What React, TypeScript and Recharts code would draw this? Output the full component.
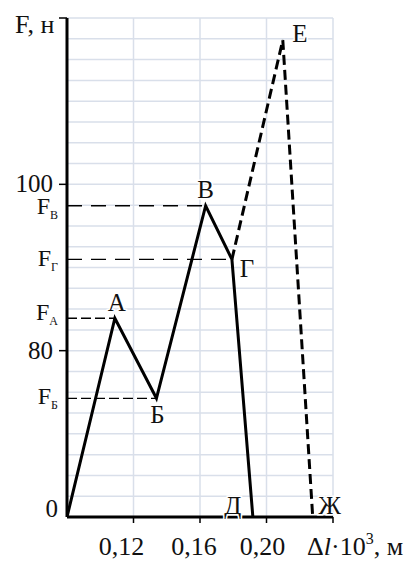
import React from 'react';
import { LineChart, Line, XAxis, YAxis, CartesianGrid, ReferenceLine, LabelList } from 'recharts';

// Schematic chart: the force axis is broken, so y is measured in grid cells;
// tick labels map those cell positions to force values.
const solidX = [0.08, 0.1088, 0.1338, 0.1634, 0.1792, 0.1918];
const solidY = [0, 9.56, 5.71, 14.97, 12.39, 0];
const solidNames = ['', 'А', 'Б', 'В', 'Г', 'Д'];

const dashedX = [0.1792, 0.2098, 0.2278];
const dashedY = [12.39, 22.94, 0];
const dashedNames = ['', 'Е', 'Ж'];

const xTicks = [0.08, 0.12, 0.16, 0.2, 0.24];
const xTickLabels = ['', '0,12', '0,16', '0,20', ''];
const yTicks = [0, 1, 2, 3, 4, 5, 6, 7, 8, 9, 10, 11, 12, 13, 14, 15, 16, 17, 18, 19, 20, 21, 22, 23, 24];
const yTickValues = [0, 8, 16];
const yTickLabels = ['0', '80', '100'];
const yMarkedTicks = [8, 16, 24];

// Force levels of characteristic points
const levelNames = ['В', 'Г', 'А', 'Б'];
const levelY = [14.97, 12.39, 9.56, 5.71];
const levelX = [0.1634, 0.1792, 0.1088, 0.1338];

// ---- styling ----
const FONT = 'Liberation Serif, DejaVu Serif, serif';
const TEXT = '#111';
const GRID = '#d9dfea';
const pointLabelOffsets: Record<string, [number, number]> = {
  'А': [2, -7],
  'Б': [1, 25],
  'В': [0, -8],
  'Г': [15, 18],
  'Д': [-20, -3],
  'Е': [17, 2],
  'Ж': [17, -3],
};
const xLabelDx = [0, -12, -6, -4, 0];
const levelDash = ['15 9', '15 9', '10 4', '10 4'];
const levelLabelDy = [8, 7, 2, 6];

const solidData = solidX.map((x, i) => ({ x, y: solidY[i], name: solidNames[i] }));
const dashedData = dashedX.map((x, i) => ({ x, y: dashedY[i], name: dashedNames[i] }));

const txt = (size: number) => ({ fontFamily: FONT, fontSize: size, fill: TEXT });

const PointLabel = (props: any) => {
  const { x, y, value } = props;
  if (!value) return null;
  const off = pointLabelOffsets[value] || [0, 0];
  return (
    <text
      x={x + off[0]}
      y={y + off[1]}
      textAnchor="middle"
      stroke="#fff"
      strokeWidth={3}
      paintOrder="stroke"
      style={txt(25)}
    >
      {value}
    </text>
  );
};

const YTick = (props: any) => {
  const { x, y, payload } = props;
  const v = payload.value;
  const idx = yTickValues.indexOf(v);
  const marked = yMarkedTicks.indexOf(v) >= 0;
  return (
    <g>
      {marked && <line x1={x} x2={x + 8} y1={y} y2={y} stroke="#000" strokeWidth={1.5} />}
      {idx >= 0 && v !== 0 && (
        <text x={x - 6} y={y + 8} textAnchor="end" style={txt(25)}>
          {yTickLabels[idx]}
        </text>
      )}
      {v === 24 && (
        <text x={15} y={y + 15} style={txt(26)}>
          F, н
        </text>
      )}
    </g>
  );
};

const XTick = (props: any) => {
  const { x, y, payload, index } = props;
  const v = payload.value;
  const i = xTicks.indexOf(v) >= 0 ? xTicks.indexOf(v) : index;
  const label = xTickLabels[i] || '';
  return (
    <g>
      {i > 0 && <line x1={x} x2={x} y1={y - 6} y2={y} stroke="#000" strokeWidth={1.5} />}
      {i === 0 && (
        <text x={x - 9} y={y - 6} textAnchor="end" style={txt(25)}>
          {yTickLabels[0]}
        </text>
      )}
      {label && (
        <text x={x + xLabelDx[i]} y={y + 32} textAnchor="middle" style={txt(26)}>
          {label}
        </text>
      )}
      {i === xTicks.length - 1 && (
        <text x={x - 26} y={y + 32} style={txt(26)}>
          Δ<tspan fontStyle="italic">l</tspan>·10<tspan style={{ fontSize: 16 }} dy={-11}>3</tspan>
          <tspan dy={11}>, м</tspan>
        </text>
      )}
    </g>
  );
};

const LevelLabel = (props: any) => {
  const { viewBox, name, dyOff } = props;
  if (!viewBox) return null;
  return (
    <text x={viewBox.x - 9} y={viewBox.y + dyOff} textAnchor="end" style={{ fontFamily: FONT, fill: TEXT }}>
      <tspan style={{ fontSize: 24 }}>F</tspan>
      <tspan style={{ fontSize: 12 }} dy={5}>{name}</tspan>
    </text>
  );
};

export default function App() {
  return (
    <div style={{ position: 'absolute', left: 0, top: 0, background: '#fff' }}>
      <LineChart width={409} height={561} margin={{ top: 18, right: 76, bottom: 4, left: 0 }}>
        <CartesianGrid stroke={GRID} strokeWidth={1.5} />
        <XAxis
          dataKey="x"
          type="number"
          domain={[0.08, 0.24]}
          ticks={xTicks}
          interval={0}
          allowDataOverflow
          height={40}
          tickSize={6}
          tickMargin={0}
          tickLine={false}
          axisLine={{ stroke: '#000', strokeWidth: 3 }}
          tick={<XTick />}
        />
        <YAxis
          type="number"
          domain={[0, 24]}
          ticks={yTicks}
          interval={0}
          allowDataOverflow
          width={67}
          tickSize={8}
          tickMargin={0}
          tickLine={false}
          axisLine={{ stroke: '#000', strokeWidth: 3 }}
          tick={<YTick />}
        />
        {levelNames.map((n, i) => (
          <ReferenceLine
            key={n}
            segment={[
              { x: 0.08, y: levelY[i] },
              { x: levelX[i], y: levelY[i] },
            ]}
            stroke="#000"
            strokeWidth={1.3}
            strokeDasharray={levelDash[i]}
            label={<LevelLabel name={n} dyOff={levelLabelDy[i]} />}
          />
        ))}
        <Line
          data={solidData}
          dataKey="y"
          type="linear"
          stroke="#000"
          strokeWidth={3}
          dot={false}
          isAnimationActive={false}
        >
          <LabelList dataKey="name" content={<PointLabel />} />
        </Line>
        <Line
          data={dashedData}
          dataKey="y"
          type="linear"
          stroke="#000"
          strokeWidth={3}
          strokeDasharray="10 5"
          dot={false}
          isAnimationActive={false}
        >
          <LabelList dataKey="name" content={<PointLabel />} />
        </Line>
      </LineChart>
    </div>
  );
}
